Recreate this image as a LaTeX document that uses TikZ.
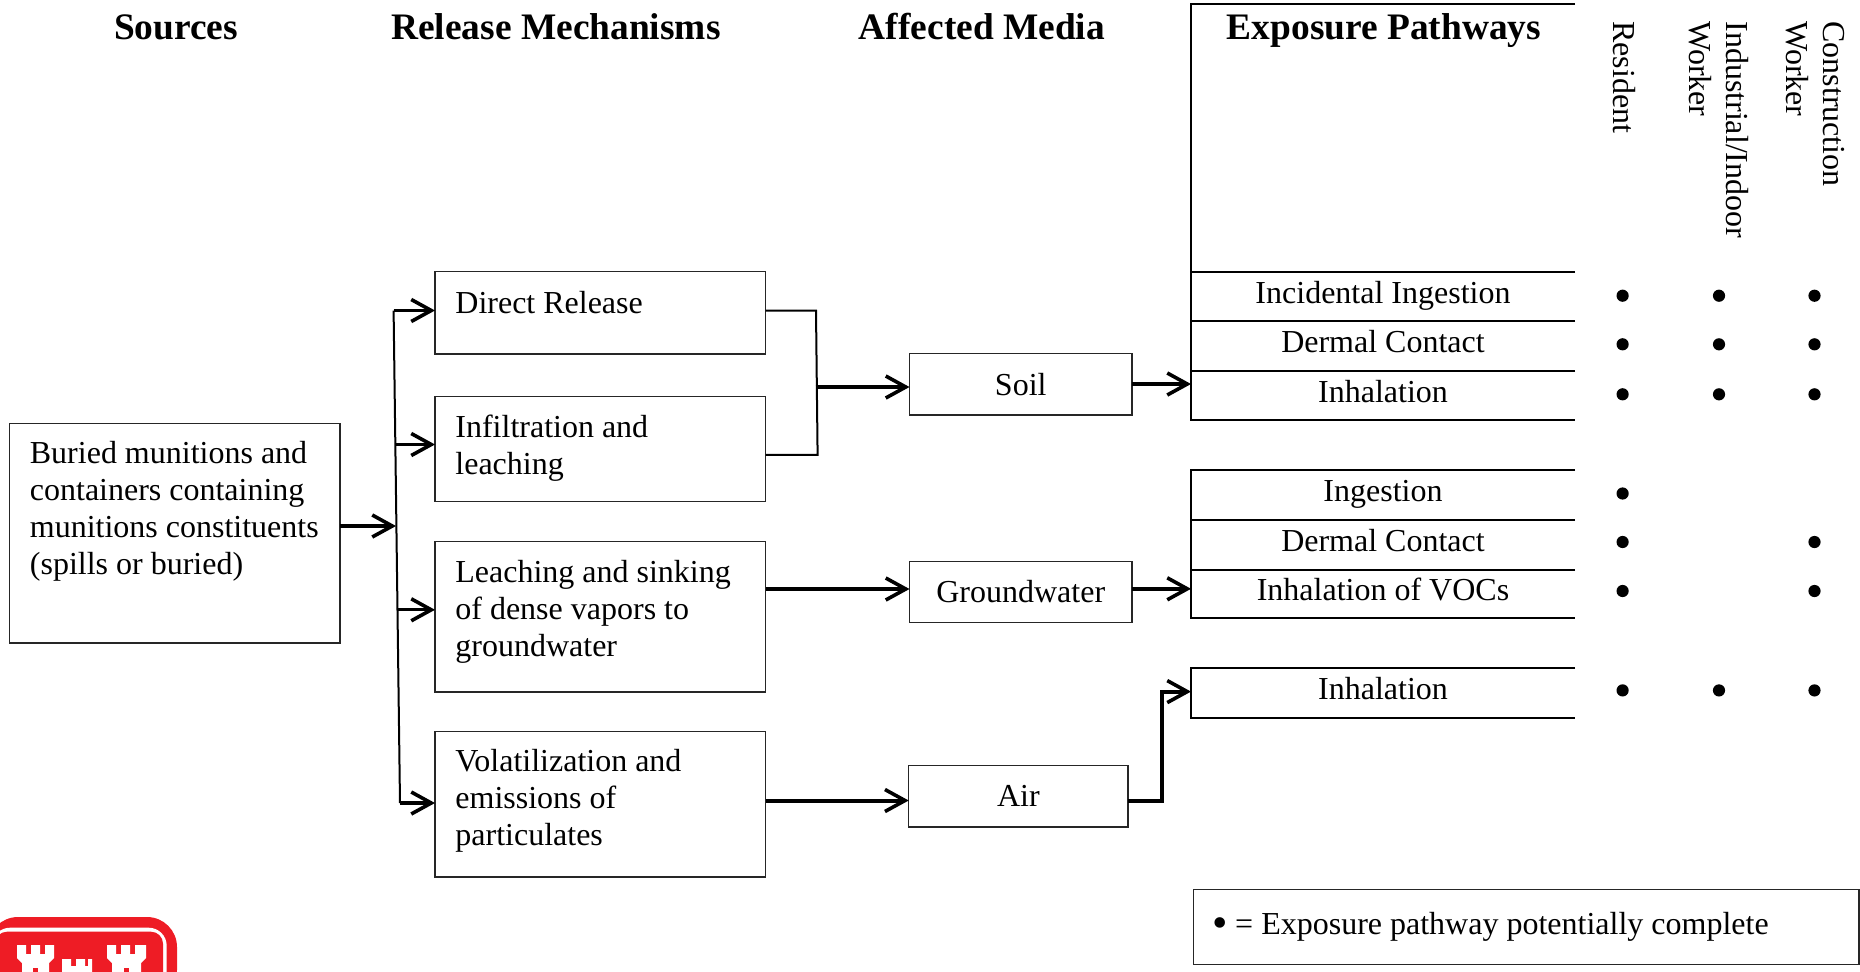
\documentclass[tikz,border=0pt]{standalone}
\usepackage{fontspec}
\setmainfont{Liberation Serif}
\usetikzlibrary{arrows.meta}
\definecolor{usace}{HTML}{EE1C25}
\newlength{\bw}\newlength{\bh}
% name, x0, y0, x1, y1, top gap (pt), text
\newcommand{\txtbox}[7]{%
  \pgfmathsetlength{\bw}{(#4-#2)*0.5pt}%
  \pgfmathsetlength{\bh}{(#5-#3)*0.5pt}%
  \node[boxn, minimum width=\bw, minimum height=\bh] (#1) at ({(#2+#4)/2},{(#3+#5)/2})
    {\begin{minipage}[c][\bh][t]{\bw}\leftskip=10.2pt\baselineskip=18.6pt\vspace*{#6}\noindent #7\end{minipage}};}
\newcommand{\cbox}[6]{%
  \pgfmathsetlength{\bw}{(#4-#2)*0.5pt}%
  \pgfmathsetlength{\bh}{(#5-#3)*0.5pt}%
  \node[boxn, minimum width=\bw, minimum height=\bh] (#1) at ({(#2+#4)/2},{(#3+#5)/2}) {\raisebox{0.4pt}{#6}};}
\newcommand{\cell}[4]{%
  \pgfmathsetlength{\bh}{(#3-#2)*0.5pt}%
  \node[celln, minimum height=\bh] (#1) at (1383,{(#2+#3)/2}) {\raisebox{4.4pt}{#4}};
  \draw[tablerule] (#1.north east) -- (#1.north west) -- (#1.south west) -- (#1.south east);}
\tikzset{
  x=0.5pt, y=-0.5pt,
  every node/.style={font=\fontsize{16}{18.6}\selectfont},
  boxn/.style={draw=black!85, line width=0.6pt, inner sep=0pt, outer sep=0pt},
  celln/.style={minimum width=192pt, inner sep=0pt, outer sep=0pt},
  tablerule/.style={line width=1pt, black},
  head/.style={font=\fontsize{18.7}{20}\selectfont\bfseries, inner sep=0pt},
  dotn/.style={circle, fill=black, inner sep=0pt, minimum width=6.1pt},
  rothead/.style={rotate=-90, anchor=west, align=left, inner sep=0pt, font=\fontsize{16}{18.6}\selectfont},
  thickarrow/.style={line width=2pt, -{Straight Barb[length=10pt,width=11pt,line width=1.8pt]}},
  thinarrow/.style={line width=1.6pt, -{Straight Barb[length=10pt,width=11pt,line width=1.8pt]}},
  thinline/.style={line width=1pt, black},
}
\begin{document}
\begin{tikzpicture}
\useasboundingbox (0,0) rectangle (1860,971);

% headers
\node[head] (h1) at (176,27) {Sources};
\node[head] (h2) at (556,27) {Release Mechanisms};
\node[head] (h3) at (982,27) {Affected Media};

% sources
\txtbox{src}{9.5}{423.5}{340}{643}{8.7pt}{Buried munitions and\\containers containing\\munitions constituents\\(spills or buried)}

% release mechanisms
\txtbox{dr}{435}{271.6}{765.6}{354}{9.7pt}{Direct Release}
\txtbox{inf}{435}{396.6}{765.6}{501.2}{9.2pt}{Infiltration and\\leaching}
\txtbox{lea}{435}{541.6}{765.6}{692}{9.3pt}{Leaching and sinking\\of dense vapors to\\groundwater}
\txtbox{vol}{435}{731.6}{765.6}{877}{8.8pt}{Volatilization and\\emissions of\\particulates}

% media
\cbox{soil}{909.5}{353.8}{1132}{415}{Soil}
\cbox{gw}{909.5}{561.6}{1132}{622.8}{Groundwater}
\cbox{air}{908.7}{765.6}{1128}{827}{Air}

% exposure table
\cell{eh}{4}{272}{}
\node[head] (h4) at (1384,31) {Exposure Pathways};
\cell{e1}{272}{321.4}{Incidental Ingestion}
\cell{e2}{321.4}{371}{Dermal Contact}
\cell{e3}{371}{420}{Inhalation}
\cell{g1}{470.4}{520}{Ingestion}
\cell{g2}{520}{569.8}{Dermal Contact}
\cell{g3}{569.8}{618.4}{Inhalation of VOCs}
\cell{a1}{668.4}{717.7}{Inhalation}

% receptors
\node[rothead] (r1) at (1624,21) {Resident};
\node[rothead] (r2) at (1718.5,21) {Industrial/Indoor\\Worker};
\node[rothead] (r3) at (1815,21) {Construction\\Worker};

% dots
\foreach \n/\x/\y in {a/1622.6/295.7,b/1719/295.7,c/1814.5/295.7,
                      d/1622.6/344.3,e/1719/344.3,f/1814.5/344.3,
                      g/1622.6/394.3,h/1719/394.3,i/1814.5/394.3,
                      j/1622.6/493.5,
                      k/1622.6/542,l/1814.5/542,
                      m/1622.6/591,n/1814.5/591,
                      o/1622.6/690.4,p/1719/690.4,q/1814.5/690.4}
  \node[dotn] (dot\n) at (\x,\y) {};

% legend
\node[boxn, minimum width=332.8pt, minimum height=37.4pt, inner sep=0pt] (leg) at (1526.2,927.1)
  {\makebox[332.8pt][l]{\raisebox{3.6pt}{\hspace{9.6pt}\raisebox{-1.6pt}{\fontsize{22}{22}\selectfont •}\hspace{3.6pt}=\hspace{4pt}Exposure pathway potentially complete}}};

% bus and arrows on the left
\coordinate (bt) at (393.6,310.5);
\coordinate (bb) at (400,803);
\coordinate (bm) at (396,526);
\draw[thinline] (bt) -- (bb);
\draw[thinarrow] (src.east |- bm) -- (bm);
\draw[thinarrow] (bt) -- (bt -| dr.west);
\coordinate (b2) at (394.5,444.5);
\coordinate (b3) at (396.5,609.8);
\draw[thinarrow] (b2) -- (b2 -| inf.west);
\draw[thinarrow] (b3) -- (b3 -| lea.west);
\draw[thinarrow] (bb) -- (bb -| vol.west);

% merge to soil
\coordinate (m1) at (816,310.5);
\coordinate (m2) at (817.6,454.8);
\coordinate (mm) at (815.5,387);
\draw[thinline] (m1 -| dr.east) -- (m1) -- (m2) -- (m2 -| inf.east);
\draw[thickarrow] (mm) -- (mm -| soil.west);

% media arrows
\coordinate (gy) at (800,589);
\draw[thickarrow] (gy -| lea.east) -- (gy -| gw.west);
\coordinate (vy) at (800,800.5);
\draw[thickarrow] (vy -| vol.east) -- (vy -| air.west);
\coordinate (sy) at (1150,384);
\draw[thickarrow] (sy -| soil.east) -- (sy -| e3.west);
\coordinate (wy) at (1150,588.8);
\draw[thickarrow] (wy -| gw.east) -- (wy -| g3.west);
\coordinate (ay) at (1161.5,691.6);
\draw[thickarrow] (vy -| air.east) -- (vy -| ay) -- (ay) -- (ay -| a1.west);

% logo
\begin{scope}
\clip (0,880) rectangle (200,971);
\fill[usace, rounded corners=15] (-12,917) rectangle (177,1000);
\fill[white, rounded corners=9] (-8,927.7) rectangle (166.7,1000);
\fill[usace, rounded corners=6] (-5,931.7) rectangle (163,1000);
\fill[white] (17,945) -- (26,945) -- (26,954) -- (31,954) -- (31,945) -- (40,945) -- (40,954) -- (45,954) -- (45,945) -- (54,945)
  -- (54,958) -- (49,963) -- (49,975) -- (22,975) -- (22,963) -- (17,958) -- cycle;
\fill[white] (107,945) -- (116,945) -- (116,954) -- (121,954) -- (121,945) -- (130,945) -- (130,954) -- (135,954) -- (135,945) -- (146,945)
  -- (146,958) -- (141,963) -- (141,975) -- (112,975) -- (112,963) -- (107,958) -- cycle;
\fill[white] (62,959) -- (71,959) -- (71,966) -- (76,966) -- (76,959) -- (85,959) -- (85,966) -- (88,966) -- (88,959) -- (92,959) -- (92,975) -- (62,975) -- cycle;
\fill[usace] (33,968) rectangle (38,975);
\fill[usace] (124,968) rectangle (129,975);
\end{scope}
\end{tikzpicture}
\end{document}
